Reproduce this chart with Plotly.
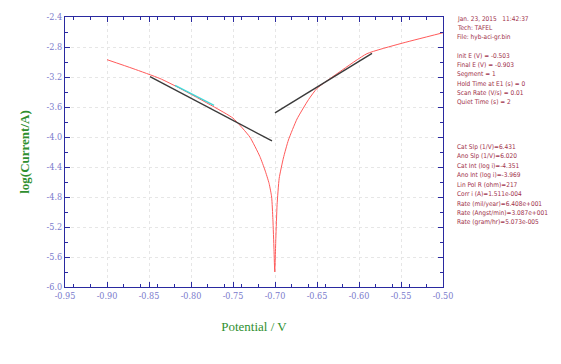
import plotly.graph_objects as go

# Tafel scan: potential (V) vs log10(current / A)
cath_E = [-0.900, -0.869, -0.837, -0.813, -0.774, -0.750, -0.730, -0.718, -0.712, -0.707, -0.704, -0.7025, -0.7012, -0.7003]
cath_logi = [-2.969, -3.088, -3.220, -3.352, -3.590, -3.749, -4.000, -4.260, -4.440, -4.620, -4.800, -5.100, -5.500, -5.800]
anod_E = [-0.7003, -0.6990, -0.6975, -0.6950, -0.6900, -0.6840, -0.6738, -0.6600, -0.650, -0.6226, -0.5905, -0.5512, -0.500]
anod_logi = [-5.800, -5.350, -4.900, -4.550, -4.280, -4.040, -3.760, -3.500, -3.352, -3.128, -2.889, -2.757, -2.610]

# Tafel fit lines (extrapolated) and the fitted window
cat_fit_E = [-0.8488, -0.7036]
cat_fit_logi = [-3.194, -4.053]
cat_win_E = [-0.819, -0.7726]
cat_win_logi = [-3.313, -3.577]
ano_fit_E = [-0.7000, -0.5845]
ano_fit_logi = [-3.679, -2.885]

x_ticks = [-0.95, -0.90, -0.85, -0.80, -0.75, -0.70, -0.65, -0.60, -0.55, -0.50]
y_ticks = [-2.4, -2.8, -3.2, -3.6, -4.0, -4.4, -4.8, -5.2, -5.6, -6.0]

header_lines = [
    "Jan. 23, 2015   11:42:37",
    "Tech: TAFEL",
    "File: hyb-aci-gr.bin",
    "",
    "Init E (V) = -0.503",
    "Final E (V) = -0.903",
    "Segment = 1",
    "Hold Time at E1 (s) = 0",
    "Scan Rate (V/s) = 0.01",
    "Quiet Time (s) = 2",
]
result_lines = [
    "Cat Slp (1/V)=6.431",
    "Ano Slp (1/V)=6.020",
    "Cat Int (log i)=-4.351",
    "Ano Int (log i)=-3.969",
    "Lin Pol R (ohm)=217",
    "Corr i (A)=1.511e-004",
    "Rate (mil/year)=6.408e+001",
    "Rate (Angst/min)=3.087e+001",
    "Rate (gram/hr)=5.073e-005",
]

fig = go.Figure()
fig.add_trace(go.Scatter(x=cath_E + anod_E[1:], y=cath_logi + anod_logi[1:], mode="lines",
                         line=dict(color="#ff5a5a", width=1, shape="spline", smoothing=0.5),
                         hoverinfo="skip"))
fig.add_trace(go.Scatter(x=cat_fit_E, y=cat_fit_logi, mode="lines",
                         line=dict(color="#3a3a3a", width=1.4), hoverinfo="skip"))
fig.add_trace(go.Scatter(x=cat_win_E, y=cat_win_logi, mode="lines",
                         line=dict(color="#3fd8d8", width=1.4), hoverinfo="skip"))
fig.add_trace(go.Scatter(x=ano_fit_E, y=ano_fit_logi, mode="lines",
                         line=dict(color="#3a3a3a", width=1.4), hoverinfo="skip"))

axis_color = "#2a2aa0"
tick_font = dict(family="DejaVu Serif Condensed, DejaVu Serif", size=9, color="#7a7acc")
title_font = dict(family="Liberation Serif", size=13, color="#2f8f2f")

fig.update_xaxes(range=[-0.95, -0.50], tickvals=x_ticks, ticktext=[f"{v:.2f}" for v in x_ticks],
                 showline=True, linecolor=axis_color, linewidth=1, mirror="allticks",
                 ticks="inside", ticklen=5, tickcolor=axis_color,
                 minor=dict(ticks="inside", ticklen=3, tickcolor=axis_color, nticks=5,
                            showgrid=False),
                 showgrid=True, gridcolor="#e6e6e6", griddash="dot", gridwidth=1,
                 zeroline=False, tickfont=tick_font,
                 title=dict(text="Potential / V", font=title_font, standoff=22))
fig.update_yaxes(range=[-6.0, -2.4], tickvals=y_ticks, ticktext=[f"{v:.1f}" for v in y_ticks],
                 showline=True, linecolor=axis_color, linewidth=1, mirror="allticks",
                 ticks="inside", ticklen=5, tickcolor=axis_color,
                 minor=dict(ticks="inside", ticklen=3, tickcolor=axis_color, nticks=5,
                            showgrid=False),
                 showgrid=True, gridcolor="#e6e6e6", griddash="dot", gridwidth=1,
                 zeroline=False, tickfont=tick_font,
                 title=dict(text="<b>log(Current/A)</b>", font=title_font, standoff=14))

# Instrument / fit report on the right
plot_l, plot_r, plot_t, plot_b = 65, 443, 15, 287
text_x = (455 - plot_l) / (plot_r - plot_l)
def paper_y(py):
    return (plot_b - py) / (plot_b - plot_t)

report_font = dict(family="DejaVu Sans Condensed, DejaVu Sans", size=6.5, color="#a0304a")
for i, line in enumerate(header_lines):
    if line:
        fig.add_annotation(text=line, xref="paper", yref="paper", x=text_x, y=paper_y(17 + 9.3 * i),
                           xanchor="left", yanchor="middle", showarrow=False, font=report_font)
for i, line in enumerate(result_lines):
    fig.add_annotation(text=line, xref="paper", yref="paper", x=text_x, y=paper_y(146 + 9.5 * i),
                       xanchor="left", yanchor="middle", showarrow=False, font=report_font)

fig.update_layout(width=561, height=364, showlegend=False,
                  margin=dict(l=plot_l, r=561 - plot_r, t=plot_t, b=364 - plot_b),
                  paper_bgcolor="white", plot_bgcolor="white")

fig.write_html("out.html")
